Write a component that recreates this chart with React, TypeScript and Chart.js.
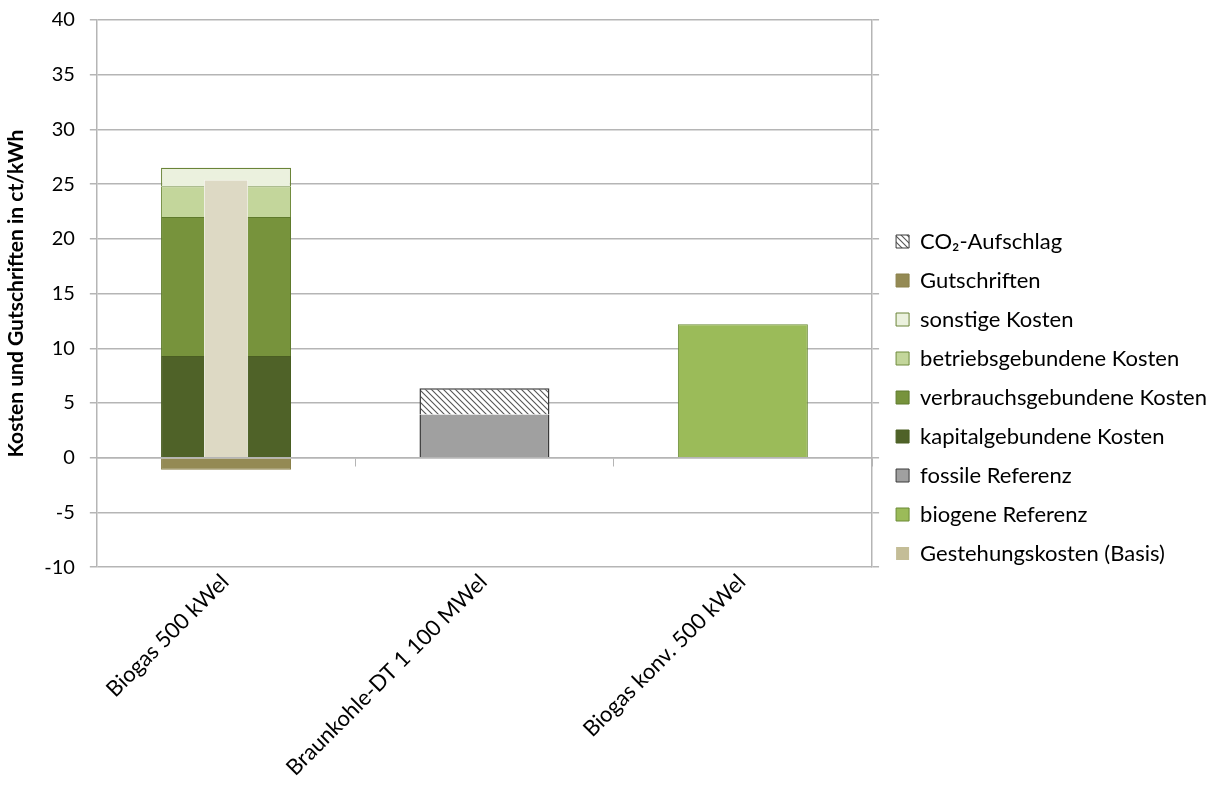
import React, { useEffect, useRef } from "react";
import { Chart, registerables } from "chart.js";

Chart.register(...registerables);

const categories = ["Biogas 500 kWel", "Braunkohle-DT 1 100 MWel", "Biogas konv. 500 kWel"];

const kapitalgebunden = [9.3, null, null];
const verbrauchsgebunden = [12.7, null, null];
const betriebsgebunden = [2.8, null, null];
const sonstige = [1.7, null, null];
const gutschriften = [-1.1, null, null];
const fossileReferenz = [null, 3.95, null];
const co2Aufschlag = [null, 2.4, null];
const biogeneReferenz = [null, null, 12.2];
const gestehungskosten = [25.4, null, null];

const yTicks = [-10, -5, 0, 5, 10, 15, 20, 25, 30, 35, 40];

const legendOrder = [
  "CO₂-Aufschlag",
  "Gutschriften",
  "sonstige Kosten",
  "betriebsgebundene Kosten",
  "verbrauchsgebundene Kosten",
  "kapitalgebundene Kosten",
  "fossile Referenz",
  "biogene Referenz",
  "Gestehungskosten (Basis)",
];

const FONT = "Lato";
const FS = 22;
const GRID = "#b5b5b5";

function makeHatch(): CanvasPattern | string {
  const c = document.createElement("canvas");
  c.width = 6;
  c.height = 6;
  const g = c.getContext("2d");
  if (!g) return "#cccccc";
  g.fillStyle = "#ffffff";
  g.fillRect(0, 0, 6, 6);
  g.strokeStyle = "#555555";
  g.lineWidth = 1.1;
  g.beginPath();
  g.moveTo(-1, -1);
  g.lineTo(7, 7);
  g.moveTo(-4, 2);
  g.lineTo(4, 10);
  g.moveTo(2, -4);
  g.lineTo(10, 4);
  g.stroke();
  const p = g.createPattern(c, "repeat");
  return p || "#cccccc";
}

const shadowPlugin = {
  id: "barShadow",
  beforeDatasetDraw(chart: any, args: any) {
    const ctx = chart.ctx;
    const meta = args.meta;
    ctx.save();
    ctx.shadowColor = "rgba(0,0,0,0.45)";
    ctx.shadowBlur = 5;
    ctx.shadowOffsetX = 2;
    ctx.shadowOffsetY = 2.5;
    ctx.fillStyle = "rgba(255,255,255,1)";
    meta.data.forEach((el: any) => {
      if (el && el.$context && el.$context.raw != null && !el.skip) {
        const p = el.getProps(["x", "y", "base", "width"], true);
        const left = p.x - p.width / 2;
        const top = Math.min(p.y, p.base);
        const h = Math.abs(p.base - p.y);
        ctx.fillRect(left, top, p.width, h);
      }
    });
    ctx.restore();
  },
};

export default function App() {
  const ref = useRef<HTMLCanvasElement | null>(null);

  useEffect(() => {
    if (!ref.current) return;
    const hatch = makeHatch();
    const common = { categoryPercentage: 1.0, barPercentage: 0.503, order: 1, grouped: false, stack: "main" };
    const chart = new Chart(ref.current, {
      type: "bar",
      data: {
        labels: categories,
        datasets: [
          { ...common, label: "kapitalgebundene Kosten", data: kapitalgebunden, backgroundColor: "#4f6228", borderColor: "#4a5e22", borderWidth: 1 },
          { ...common, label: "verbrauchsgebundene Kosten", data: verbrauchsgebunden, backgroundColor: "#77933c", borderColor: "#5e7a2c", borderWidth: 1 },
          { ...common, label: "betriebsgebundene Kosten", data: betriebsgebunden, backgroundColor: "#c3d69b", borderColor: "#6f8a3c", borderWidth: 1 },
          { ...common, label: "sonstige Kosten", data: sonstige, backgroundColor: "#ebf1de", borderColor: "#6a8438", borderWidth: 1.2 },
          { ...common, label: "Gutschriften", data: gutschriften, backgroundColor: "#948a54", borderColor: "#8a804a", borderWidth: 1 },
          { ...common, label: "fossile Referenz", data: fossileReferenz, backgroundColor: "#a0a0a0", borderColor: "#3a3a3a", borderWidth: { left: 1.5, right: 1.5, top: 0, bottom: 0 } },
          { ...common, label: "CO₂-Aufschlag", data: co2Aufschlag, backgroundColor: hatch, borderColor: "#3a3a3a", borderWidth: 1.5 },
          { ...common, label: "biogene Referenz", data: biogeneReferenz, backgroundColor: "#9bbb59", borderColor: "#6b8a35", borderWidth: 1 },
          {
            label: "Gestehungskosten (Basis)",
            data: gestehungskosten,
            backgroundColor: "#ddd9c4",
            borderColor: "#f4f2ea",
            borderWidth: 1,
            stack: "basis",
            grouped: false,
            order: 0,
            categoryPercentage: 1.0,
            barPercentage: 0.171,
          },
        ] as any,
      },
      options: {
        responsive: false,
        animation: false,
        layout: { padding: { top: 12, left: 2, right: 6, bottom: 7 } },
        plugins: {
          tooltip: { enabled: false },
          legend: {
            display: true,
            position: "right",
            align: "center",
            maxWidth: 360,
            labels: {
              font: { family: FONT, size: FS },
              color: "#000000",
              boxWidth: 13,
              boxHeight: 13,
              padding: 17,
              sort: (a: any, b: any) => legendOrder.indexOf(a.text) - legendOrder.indexOf(b.text),
              generateLabels: (chart: any) => {
                const items = Chart.defaults.plugins.legend.labels.generateLabels(chart);
                return items.map((it: any) => {
                  if (it.text === "Gestehungskosten (Basis)") {
                    return { ...it, fillStyle: "#c4bd97", strokeStyle: "#c4bd97", lineWidth: 0 };
                  }
                  return { ...it, lineWidth: 1 };
                });
              },
            },
          },
        },
        scales: {
          x: {
            type: "category",
            position: "bottom",
            grid: { display: false, drawTicks: false },
            border: { display: false },
            ticks: {
              font: { family: FONT, size: FS },
              color: "#000000",
              minRotation: 45,
              maxRotation: 45,
              autoSkip: false,
              padding: 2,
              labelOffset: -1,
            },
          },
          xz: {
            type: "category",
            position: { y: 0 } as any,
            offset: true,
            grid: { display: true, offset: true, drawOnChartArea: false, drawTicks: true, tickLength: 8, color: GRID },
            border: { display: true, color: GRID, width: 1.5 },
            ticks: { display: false },
          },
          y: {
            type: "linear",
            stacked: true,
            min: -10,
            max: 40,
            afterBuildTicks: (scale: any) => {
              scale.ticks = yTicks.map((v) => ({ value: v }));
            },
            grid: { color: GRID, tickLength: 7, lineWidth: 1.5 },
            border: { color: GRID, width: 1.5 },
            ticks: {
              font: { family: FONT, size: 20, lineHeight: 0.5 },
              color: "#000000",
              padding: 15,
            },
            title: {
              display: true,
              text: "Kosten und Gutschriften in ct/kWh",
              font: { family: FONT, size: 21, weight: "bold" },
              color: "#000000",
              padding: { top: 2, bottom: 0 },
            },
          },
          y2: {
            type: "linear",
            position: "right",
            min: -10,
            max: 40,
            afterBuildTicks: (scale: any) => {
              scale.ticks = yTicks.map((v) => ({ value: v }));
            },
            grid: { drawOnChartArea: false, tickLength: 7, color: GRID, lineWidth: 1.5 },
            border: { color: GRID, width: 1.5 },
            ticks: { display: false },
          },
        },
      } as any,
      plugins: [shadowPlugin],
    });
    return () => chart.destroy();
  }, []);

  return (
    <div style={{ position: "absolute", left: 0, top: 0, width: 1223, height: 790, background: "#ffffff" }}>
      <canvas ref={ref} width={1223} height={790} />
    </div>
  );
}
